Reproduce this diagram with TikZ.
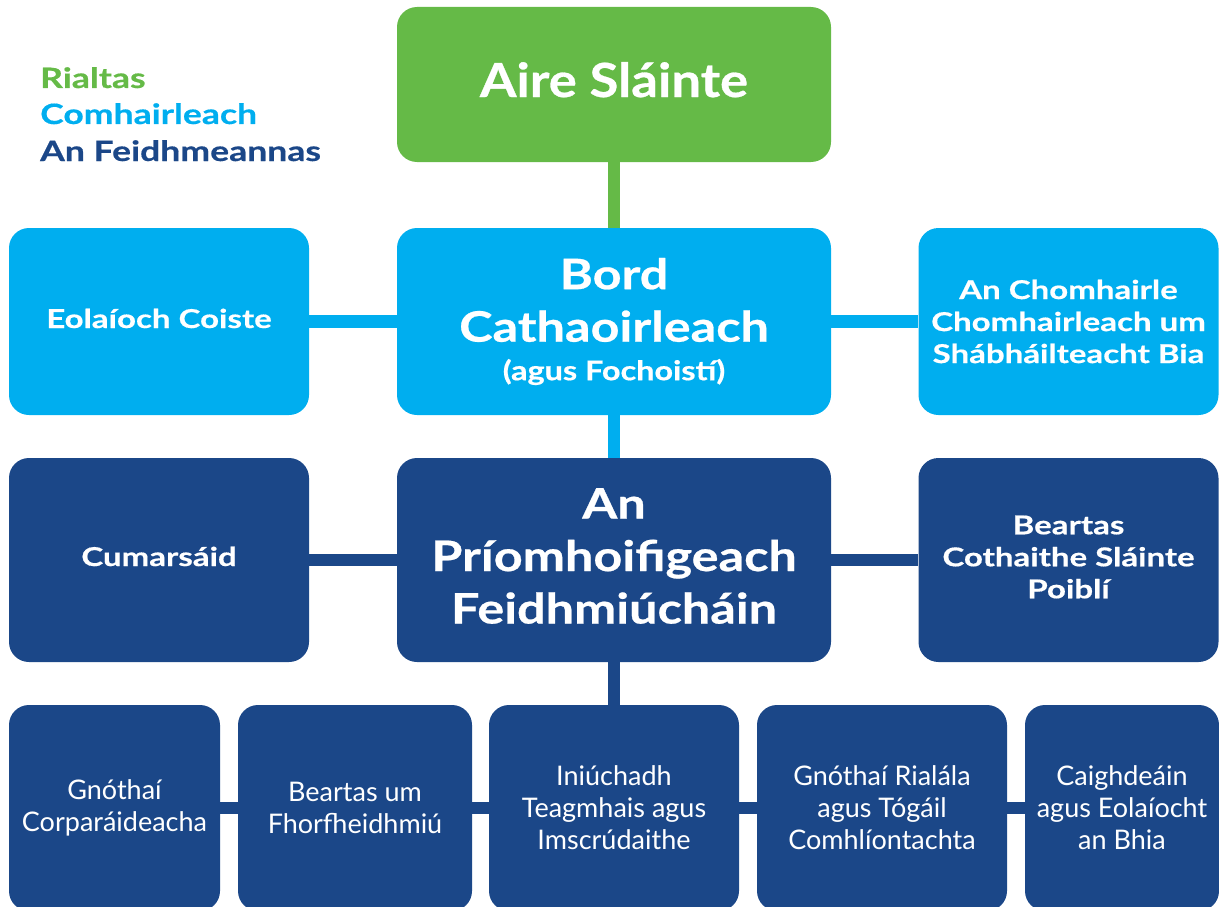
\documentclass[tikz,border=0pt]{standalone}
\usepackage{fontspec}
\setmainfont{Lato}
\newfontfamily\hvA{Lato}[FakeStretch=1.12,FakeBold=0.6]
\newfontfamily\hvB{Lato}[FakeStretch=1.2,FakeBold=0.6]
\newfontfamily\hvC{Lato}[FakeStretch=1.27,FakeBold=0.5]
\definecolor{rgreen}{HTML}{65BA47}
\definecolor{rcyan}{HTML}{00AEEF}
\definecolor{rblue}{HTML}{1B4788}
\newcommand{\fs}[2]{\fontsize{#1}{#2}\selectfont}
\begin{document}
\begin{tikzpicture}[x=1pt,y=-1pt,
  box/.style={rounded corners=20pt, inner sep=0pt, align=center, text=white},
  big/.style={font=\hvB\bfseries\fs{42}{52.5}},
  mid/.style={font=\hvC\bfseries\fs{26}{32}},
  low/.style={font=\fs{27}{32}},
  link/.style={line width=12.5pt},
  legend/.style={anchor=base west, inner sep=0pt, font=\hvC\bfseries\fs{28}{30}}
]
\useasboundingbox (0,0) rectangle (1219,907);
\clip (0,0) rectangle (1219,907);
% legend
\node[legend, text=rgreen] (l1) at (40,88) {Rialtas};
\node[legend, text=rcyan] (l2) at (40,124) {Comhairleach};
\node[legend, text=rblue] (l3) at (40,161) {An Feidhmeannas};
% top
\node[box, fill=rgreen, minimum width=434pt, minimum height=155pt, text height=25pt, text depth=0pt, font=\hvA\bfseries\fs{47}{52}] (aire) at (614,84.5) {Aire Sláinte};
% cyan row
\node[box, fill=rcyan, minimum width=434pt, minimum height=187pt, big] (bord) at (614,321.5)
  {Bord\\Cathaoirleach\\[-14pt]{\fs{27}{32}(agus Fochoistí)}};
\node[box, fill=rcyan, minimum width=300pt, minimum height=187pt, text height=13pt, text depth=0pt, mid] (eol) at (159,321.5) {Eolaíoch Coiste};
\node[box, fill=rcyan, minimum width=300pt, minimum height=187pt, mid] (chom) at (1068.5,321.5) {An Chomhairle\\Chomhairleach um\\Shábháilteacht Bia};
% dark row
\node[box, fill=rblue, minimum width=434pt, minimum height=204pt,
  label={[big, text=white, align=center, yshift=4pt]center:An\\Príomhoifigeach\\Feidhmiúcháin}] (pcf) at (614,560) {};
\node[box, fill=rblue, minimum width=300pt, minimum height=204pt, text height=12pt, text depth=0pt, mid] (cum) at (159,560) {Cumarsáid};
\node[box, fill=rblue, minimum width=300pt, minimum height=204pt,
  label={[mid, text=white, align=center, yshift=3pt]center:Beartas\\Cothaithe Sláinte\\Poiblí}] (bcsp) at (1068.5,560) {};
% bottom row
\node[box, fill=rblue, minimum width=211pt, minimum height=206pt, low] (b1) at (114.5,808) {Gnóthaí\\Corparáideacha};
\node[box, fill=rblue, minimum width=234pt, minimum height=206pt, low] (b2) at (355,808) {Beartas um\\Fhorfheidhmiú};
\node[box, fill=rblue, minimum width=250pt, minimum height=206pt, low] (b3) at (614,808) {Iniúchadh\\Teagmhais agus\\Imscrúdaithe};
\node[box, fill=rblue, minimum width=250pt, minimum height=206pt, low] (b4) at (882,808) {Gnóthaí Rialála\\agus Tógáil\\Comhlíontachta};
\node[box, fill=rblue, minimum width=194pt, minimum height=206pt, low] (b5) at (1122,808) {Caighdeáin\\agus Eolaíocht\\an Bhia};
% connectors
\draw[link, rgreen] (aire.south) -- (bord.north);
\draw[link, rcyan] (bord.south) -- (pcf.north);
\draw[link, rcyan] (eol) -- (bord);
\draw[link, rcyan] (bord) -- (chom);
\draw[link, rblue] (cum) -- (pcf);
\draw[link, rblue] (pcf) -- (bcsp);
\draw[link, rblue] (pcf.south) -- (b3.north);
\draw[link, rblue] (b1) -- (b2);
\draw[link, rblue] (b2) -- (b3);
\draw[link, rblue] (b3) -- (b4);
\draw[link, rblue] (b4) -- (b5);
\end{tikzpicture}
\end{document}
